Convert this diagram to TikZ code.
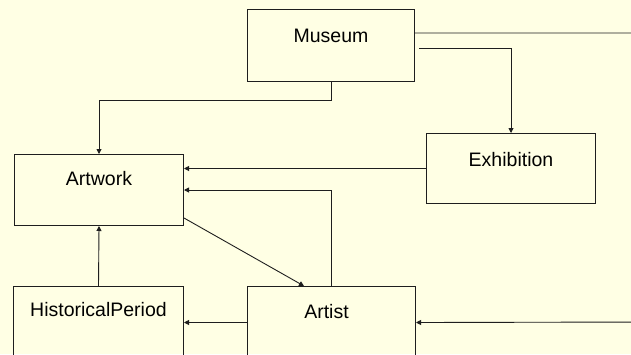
\documentclass[tikz,border=0pt]{standalone}
\usepackage{fontspec}
\setmainfont{Liberation Sans}
\usetikzlibrary{arrows.meta,calc}
\definecolor{bgc}{RGB}{255,255,228}
\definecolor{ln}{RGB}{30,30,30}
\begin{document}
\begin{tikzpicture}[x=1bp,y=-1bp,
  box/.style={draw=ln,line width=1bp,minimum width=#1,minimum height=72bp,inner sep=0pt,anchor=north west},
  lbl/.style={anchor=base,font=\fontsize{19.5bp}{22bp}\selectfont,text=black,inner sep=0pt},
  conn/.style={draw=ln,line width=0.9bp},
  arr/.style={conn,-{Triangle[length=5bp,width=5bp]}}]
\fill[bgc] (0,0) rectangle (631,354);
\useasboundingbox (0,0) rectangle (631,354);
\clip (0,0) rectangle (631,354);
% boxes
\node[box=167bp,minimum height=72bp] (mus) at (247,9) {};
\node[box=169bp,minimum height=70bp] (exh) at (426,133) {};
\node[box=169bp,minimum height=71bp] (art) at (14,154) {};
\node[box=170bp] (hp) at (13,286) {};
\node[box=168bp] (ar) at (247,286) {};
% labels
\node[lbl] (tmus) at ($(mus.north)+(0,33)$) {Museum};
\node[lbl] (texh) at ($(exh.north)+(0,33)$) {Exhibition};
\node[lbl] (tart) at ($(art.north)+(0,31)$) {Artwork};
\node[lbl] (thp) at ($(hp.north)+(0,30)$) {HistoricalPeriod};
\node[lbl] (tar) at ($(ar.north)+(-5,32)$) {Artist};
% free-end coordinates
\coordinate (m1) at ($(mus.north east)+(4,39)$);
\coordinate (m2) at ($(mus.north east)+(0,24)$);
\coordinate (far1) at (650,33);
\coordinate (far2) at (650,322);
\coordinate (a1) at ($(art.south east)+(0,-8)$);
\coordinate (a2) at ($(ar.north west)+(57,0)$);
% connectors
\draw[arr] (mus.south) -- ++(0,18) -| (art.north);
\draw[arr] (m1) -| (exh.north);
\draw[arr] (m2) -- (far1) -- (far2) -- (ar.east);
\draw[arr] (exh.west) -- (exh.west -| art.east);
\draw[arr] (ar.north) |- (art.east);
\draw[arr] (a1) -- (a2);
\draw[arr] (hp.north) -- (art.south);
\draw[arr] (ar.west) -- (ar.west -| hp.east);
\end{tikzpicture}
\end{document}
